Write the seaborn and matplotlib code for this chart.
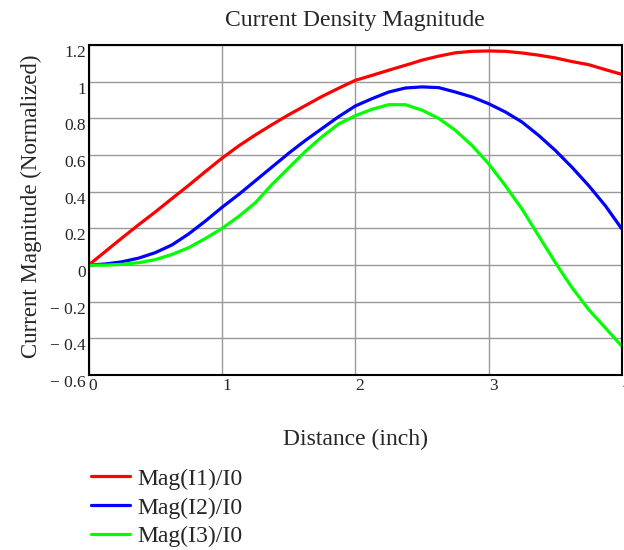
import numpy as np
import pandas as pd
import matplotlib
matplotlib.use("Agg")
import matplotlib.pyplot as plt
import seaborn as sns

# values
distance = [0, 0.125, 0.25, 0.375, 0.5, 0.625, 0.75, 0.875, 1, 1.125, 1.25, 1.375, 1.5, 1.625, 1.75, 1.875,
            2, 2.125, 2.25, 2.375, 2.5, 2.625, 2.75, 2.875, 3, 3.125, 3.25, 3.375, 3.5, 3.625, 3.75, 3.875, 4]
mag_i1 = [0, 0.074, 0.148, 0.22, 0.29, 0.363, 0.435, 0.51, 0.583, 0.65, 0.71, 0.766, 0.82, 0.87, 0.92, 0.965,
          1.008, 1.035, 1.063, 1.09, 1.118, 1.14, 1.158, 1.166, 1.168, 1.166, 1.157, 1.145, 1.13, 1.11, 1.093, 1.066, 1.04]
mag_i2 = [0, 0.006, 0.018, 0.038, 0.068, 0.11, 0.17, 0.24, 0.315, 0.385, 0.46, 0.535, 0.61, 0.68, 0.745, 0.81,
          0.868, 0.908, 0.944, 0.966, 0.972, 0.968, 0.944, 0.917, 0.88, 0.835, 0.78, 0.707, 0.625, 0.533, 0.433, 0.323, 0.195]
mag_i3 = [0, 0.0, 0.004, 0.013, 0.03, 0.058, 0.095, 0.145, 0.2, 0.265, 0.34, 0.44, 0.53, 0.62, 0.70, 0.77,
          0.815, 0.85, 0.875, 0.875, 0.845, 0.80, 0.735, 0.652, 0.552, 0.433, 0.305, 0.159, 0.013, -0.124, -0.243, -0.343, -0.444]
series = ["Mag(I1)/I0", "Mag(I2)/I0", "Mag(I3)/I0"]
colors = ["#ff0000", "#0000ff", "#00ff00"]
yticks = [-0.6, -0.4, -0.2, 0, 0.2, 0.4, 0.6, 0.8, 1, 1.2]
ytick_labels = ["\u2212 0.6", "\u2212 0.4", "\u2212 0.2", "0", "0.2", "0.4", "0.6", "0.8", "1", "1.2"]
xticks = [0, 1, 2, 3, 4]

df = pd.DataFrame({
    "Distance": distance * 3,
    "Value": mag_i1 + mag_i2 + mag_i3,
    "Series": [series[0]] * len(distance) + [series[1]] * len(distance) + [series[2]] * len(distance),
})

sns.set_style("white")
plt.rcParams["font.family"] = ["Liberation Serif", "DejaVu Serif"]

fig = plt.figure(figsize=(6.24, 5.5), dpi=100)
ax = fig.add_axes([0.142, 0.318, 0.855, 0.600])

sns.lineplot(data=df, x="Distance", y="Value", hue="Series", palette=colors,
             linewidth=2.3, ax=ax, legend=False)

ax.set_xlim(0, 4)
ax.set_ylim(-0.6, 1.2)
ax.set_xticks(xticks)
ax.set_xticklabels([str(t) for t in xticks], ha="left")
ax.set_yticks(yticks)
ax.set_yticklabels(ytick_labels, va="top")
ax.tick_params(length=0, labelsize=12.5, pad=2)
ax.grid(True, color="#999999", linewidth=1)
for s in ax.spines.values():
    s.set_color("black")
    s.set_linewidth(1.5)

ax.set_title("Current Density Magnitude", fontsize=17, pad=14)
ax.set_xlabel("Distance (inch)", fontsize=17, labelpad=25)
ax.set_ylabel("Current Magnitude (Normalized)", fontsize=16.5)
ax.yaxis.set_label_coords(-0.088, 0.512)

handles = [plt.Line2D([], [], color=c, linewidth=2.3) for c in colors]
fig.legend(handles, series, loc="upper left", bbox_to_anchor=(0.130, 0.166),
           frameon=False, fontsize=17, handlelength=1.65, labelspacing=0.31,
           borderaxespad=0, handletextpad=0.34)

fig.savefig("out.png", dpi=100)
